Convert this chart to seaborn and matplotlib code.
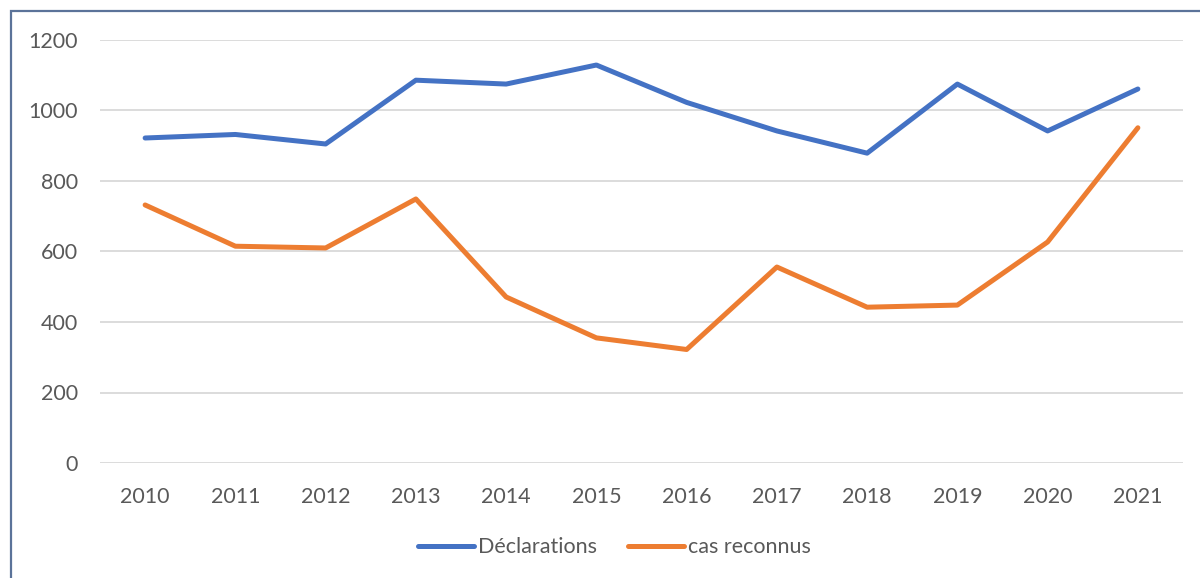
import pandas as pd
import seaborn as sns
import matplotlib.pyplot as plt
from matplotlib.patches import Rectangle

# Data
years = ['2010', '2011', '2012', '2013', '2014', '2015',
         '2016', '2017', '2018', '2019', '2020', '2021']
declarations = [922, 932, 905, 1086, 1075, 1129, 1023, 942, 879, 1075, 942, 1061]
cas_reconnus = [732, 615, 610, 749, 471, 355, 322, 556, 442, 448, 627, 951]
series_names = ['Déclarations', 'cas reconnus']
y_ticks = [0, 200, 400, 600, 800, 1000, 1200]

df = pd.DataFrame({'annee': years * 2,
                   'valeur': declarations + cas_reconnus,
                   'serie': [series_names[0]] * len(years) + [series_names[1]] * len(years)})

sns.set_theme(style='white')
plt.rcParams['font.family'] = ['Lato', 'DejaVu Sans']

fig = plt.figure(figsize=(12, 5.78), dpi=100)
ax = fig.add_axes([100 / 1200, 1 - 463 / 578, 1083 / 1200, 423 / 578])

sns.lineplot(data=df, x='annee', y='valeur', hue='serie', sort=False,
             palette=['#4472C4', '#ED7D31'], linewidth=3.6, ax=ax,
             solid_capstyle='round')

ax.set_xlim(-0.5, len(years) - 0.5)
ax.set_ylim(0, 1200)
ax.set_yticks(y_ticks)
ax.yaxis.grid(True, color='#d9d9d9', linewidth=1.3)
ax.set_axisbelow(True)
for s in ax.spines.values():
    s.set_visible(False)
ax.set_xlabel('')
ax.set_ylabel('')
ax.tick_params(axis='both', length=0, labelsize=15.5, colors='#595959')
ax.tick_params(axis='y', pad=16)
ax.tick_params(axis='x', pad=17)

leg = ax.legend(loc='upper center', bbox_to_anchor=(0.475, -0.13), ncol=2, frameon=False,
                fontsize=15.5, labelcolor='#595959', handlelength=2.6,
                handletextpad=0.2, columnspacing=1.4)
for line in leg.get_lines():
    line.set_solid_capstyle('round')

# chart border (cropped on the right and bottom)
fig.patches.append(Rectangle((11 / 1200, -0.1), 1.2, 1.1 - 11 / 578,
                             transform=fig.transFigure, fill=False,
                             edgecolor='#5b7399', linewidth=1.6))

fig.savefig('out.png', dpi=100)
